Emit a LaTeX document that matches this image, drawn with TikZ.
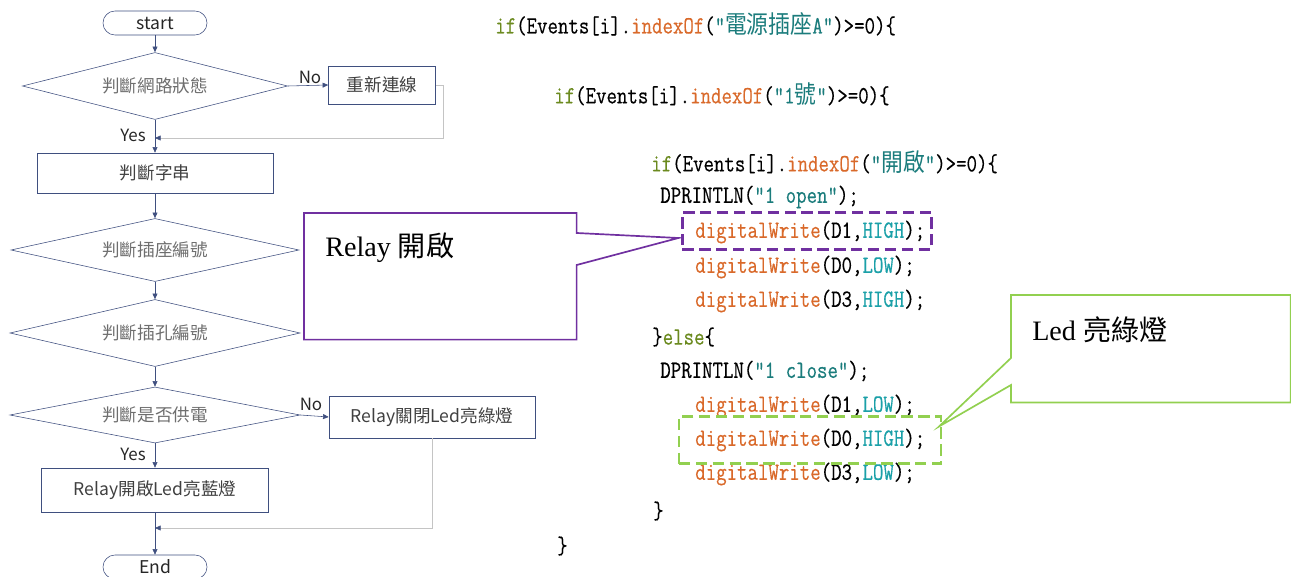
\documentclass[tikz,border=0pt]{standalone}
\usepackage{fontspec}
\setmainfont{Liberation Serif}
\setmonofont[FakeStretch=0.82, FakeBold=0.4]{Latin Modern Mono}
\newfontfamily\cjk{Noto Sans CJK TC}
\newfontfamily\cjkcode[FakeStretch=0.88]{Noto Sans CJK TC}
\usetikzlibrary{positioning,shapes.geometric,arrows.meta,calc}

\definecolor{flowline}{HTML}{3F4F7F}
\definecolor{flowtext}{HTML}{6E6E6E}
\definecolor{backline}{HTML}{C4C4C4}
\definecolor{notepurple}{HTML}{7030A0}
\definecolor{notegreen}{HTML}{92D050}
\definecolor{kwolive}{HTML}{6B8A1F}
\definecolor{fnorange}{HTML}{D9692A}
\definecolor{strteal}{HTML}{1B7C7C}
\definecolor{constteal}{HTML}{1BA0A8}

\newcommand{\codekw}[1]{\textcolor{kwolive}{#1}}
\newcommand{\codefn}[1]{\textcolor{fnorange}{#1}}
\newcommand{\codestr}[1]{\textcolor{strteal}{#1}}
\newcommand{\codeconst}[1]{\textcolor{constteal}{#1}}

\tikzstyle{terminal} = [rectangle, rounded corners=0.3cm, draw=flowline,
                        minimum width=2.6cm, minimum height=0.6cm,
                        font=\cjk\fontsize{12.5}{14}\selectfont, text=black!85]
\tikzstyle{decision} = [
    diamond,                   % Shape
    aspect=4,                  % Wide and flat
    draw=flowline,             % Border color
    inner sep=0pt,
    font=\cjk\fontsize{12.5}{14}\selectfont,
    text=flowtext              % Grey text
]
\tikzstyle{process} = [rectangle, draw=flowline, inner sep=0pt,
                       font=\cjk\fontsize{12.5}{14}\selectfont, text=black!75]
\tikzstyle{branch} = [font=\cjk\fontsize{12}{14}\selectfont, text=black!85, inner sep=0pt]
\tikzstyle{arrow} = [flowline, -{Triangle[length=4pt,width=3.5pt]}]
\tikzstyle{backarrow} = [backline, -{Triangle[length=4pt,width=3.5pt,color=flowline]}]
\tikzstyle{code} = [anchor=west, inner sep=0pt, font=\ttfamily\fontsize{17.6}{20}\selectfont]
\tikzstyle{hlbox} = [dashed, dash pattern=on 8pt off 4pt, line width=1.5pt, inner sep=0pt]
\tikzstyle{note} = [anchor=north west, inner sep=0pt]
\tikzstyle{notetext} = [anchor=west, inner sep=0pt, font=\fontsize{20}{24}\selectfont]

\begin{document}
\begin{tikzpicture}[x=0.025cm, y=-0.025cm]
		\useasboundingbox (0,0) rectangle (1291,577);

		% Flowchart
		\node[terminal] (start) at (155,23) {start};
		\node[decision, minimum width=6.625cm, minimum height=1.675cm] (net) at (155,86) {判斷網路狀態};
		\node[process, minimum width=2.675cm, minimum height=0.95cm] (reconnect) at (382,85) {重新連線};
		\node[process, minimum width=5.9cm, minimum height=1cm] (str) at (155,173) {判斷字串};
		\node[decision, minimum width=7.2cm, minimum height=1.575cm] (sock) at (155,250) {判斷插座編號};
		\node[decision, minimum width=7.25cm, minimum height=1.675cm] (hole) at (155,333) {判斷插孔編號};
		\node[decision, minimum width=7.25cm, minimum height=1.4cm] (power) at (155,415) {判斷是否供電};
		\node[process, minimum width=5.15cm, minimum height=1.05cm] (off) at (432,417) {Relay關閉Led亮綠燈};
		\node[process, minimum width=5.675cm, minimum height=1.1cm] (on) at (155,490) {Relay開啟Led亮藍燈};
		\node[terminal] (finish) at (155,567) {End};

		% Branch labels
		\node[branch] (no1) at (310,77) {No};
		\node[branch] (yes1) at (133,135) {Yes};
		\node[branch] (no2) at (311,404) {No};
		\node[branch] (yes2) at (133,454) {Yes};

		\coordinate (join1) at (155,138);
		\coordinate (join2) at (155,528);

		% Arrows
		\draw[arrow] (start) -- (net);
		\draw[arrow] (net) -- (str);
		\draw[arrow] (net.east) -- (reconnect.west);
		\draw[backarrow] (reconnect.east) -- ++(7,0) |- (join1);
		\draw[arrow] (str) -- (sock);
		\draw[arrow] (sock) -- (hole);
		\draw[arrow] (hole) -- (power);
		\draw[arrow] (power.east) -- (off.west);
		\draw[arrow] (power) -- (on);
		\draw[arrow] (on) -- (finish);
		\draw[backarrow] (off.south) |- (join2);

		% Code listing
		\node[code] (c1) at (495,24) {\codekw{if}(Events[i].\codefn{indexOf}(\codestr{"{\cjkcode 電源插座}A"})>=0)\{};
		\node[code] (c2) at (554,94) {\codekw{if}(Events[i].\codefn{indexOf}(\codestr{"1{\cjkcode 號}"})>=0)\{};
		\node[code] (c3) at (651,162) {\codekw{if}(Events[i].\codefn{indexOf}(\codestr{"{\cjkcode 開啟}"})>=0)\{};
		\node[code] (c4) at (660,197) {DPRINTLN(\codestr{"1 open"});};
		\node[code] (c5) at (695,232) {\codefn{digitalWrite}(D1,\codeconst{HIGH});};
		\node[code] (c6) at (695,267) {\codefn{digitalWrite}(D0,\codeconst{LOW});};
		\node[code] (c7) at (695,301) {\codefn{digitalWrite}(D3,\codeconst{HIGH});};
		\node[code] (c8) at (652,337) {\}\codekw{else}\{};
		\node[code] (c9) at (660,371) {DPRINTLN(\codestr{"1 close"});};
		\node[code] (c10) at (695,406) {\codefn{digitalWrite}(D1,\codeconst{LOW});};
		\node[code] (c11) at (695,440) {\codefn{digitalWrite}(D0,\codeconst{HIGH});};
		\node[code] (c12) at (695,474) {\codefn{digitalWrite}(D3,\codeconst{LOW});};
		\node[code] (c13) at (653,511) {\}};
		\node[code] (c14) at (557,546) {\}};

		% Highlight boxes
		\node[hlbox, draw=notepurple, minimum width=6.225cm, minimum height=0.925cm] (hl1) at (807,231) {};
		\node[hlbox, draw=notegreen, minimum width=6.55cm, minimum height=1.175cm] (hl2) at (810,440) {};

		% Callouts
		\node[note, minimum width=6.8cm, minimum height=3.15cm] (relaynote) at (304,213) {};
		\coordinate (relaytip) at ($(hl1.west)+(-3,7)$);
		\draw[notepurple, line width=1.2pt] (relaynote.north west) -- (relaynote.north east)
			-- ($(relaynote.north east)+(0,20)$) -- (relaytip) -- ($(relaynote.north east)+(0,52)$)
			-- (relaynote.south east) -- (relaynote.south west) -- cycle;
		\node[notetext] (relaytext) at (325,248) {Relay {\cjk 開啟}};

		\node[note, minimum width=6.975cm, minimum height=2.675cm] (lednote) at (1011,295) {};
		\coordinate (ledtip) at ($(hl2.north east)+(-3,11)$);
		\draw[notegreen, line width=1.2pt] (lednote.north west) -- (lednote.north east)
			-- (lednote.south east) -- (lednote.south west)
			-- ($(lednote.north west)+(0,90)$) -- (ledtip) -- ($(lednote.north west)+(0,63)$) -- cycle;
		\node[notetext] (ledtext) at (1032,330) {Led {\cjk 亮綠燈}};
	\end{tikzpicture}
\end{document}
